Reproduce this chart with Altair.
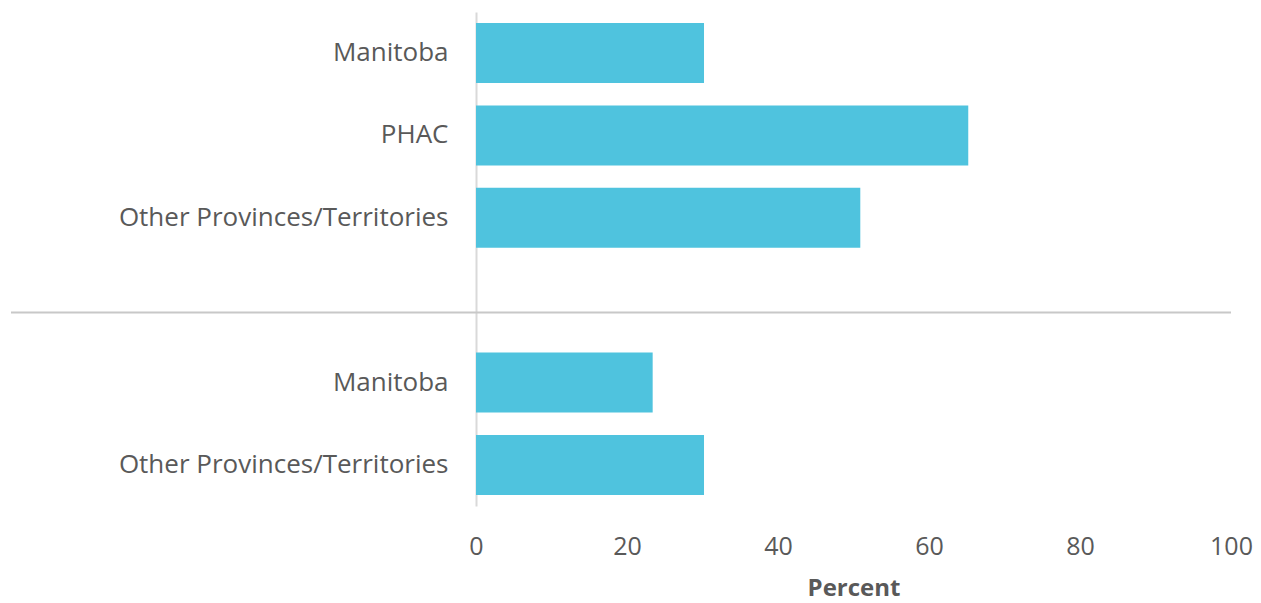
import altair as alt
import pandas as pd

ids = ["g1_mb", "g1_phac", "g1_opt", "gap", "g2_mb", "g2_opt"]
labels = ["Manitoba", "PHAC", "Other Provinces/Territories", "", "Manitoba", "Other Provinces/Territories"]
values = [30.2, 65.2, 50.9, None, 23.4, 30.2]
x_ticks = [0, 20, 40, 60, 80, 100]

df = pd.DataFrame({"id": ids, "label": labels, "value": values})
bars_df = df.dropna()

label_map = "{" + ",".join(f"'{i}':'{l}'" for i, l in zip(ids, labels)) + "}"

FONT = "Open Sans"
TXT = "#595959"

y_scale = alt.Scale(domain=ids, paddingInner=0.271, paddingOuter=0.134)

bars = alt.Chart(bars_df).mark_bar(color="#4FC3DE").encode(
    x=alt.X("value:Q", scale=alt.Scale(domain=[0, 100], nice=False),
            axis=alt.Axis(values=x_ticks, title="Percent", grid=False, domain=False,
                          ticks=False, labelFlush=False, labelPadding=28,
                          labelFont=FONT, labelFontSize=25, labelColor=TXT,
                          titleFont=FONT, titleFontSize=24, titleFontWeight="bold",
                          titleColor=TXT, titlePadding=17)),
    y=alt.Y("id:N", scale=y_scale, sort=ids,
            axis=alt.Axis(title=None, ticks=False, labelPadding=28, labelLimit=460,
                          labelExpr=f"{label_map}[datum.value]",
                          labelFont=FONT, labelFontSize=26, labelColor=TXT,
                          domainColor="#D9D9D9", domainWidth=2)),
)

sep = alt.Chart(pd.DataFrame({"id": ["gap"]})).mark_rule(color="#C8C8C8", strokeWidth=2).encode(
    y=alt.Y("id:N", scale=y_scale, sort=ids, bandPosition=0.705),
    x=alt.value(-465),
    x2=alt.value(755),
)

chart = alt.layer(bars, sep).properties(
    width=755, height=494,
    autosize=alt.AutoSizeParams(type="none"),
    padding={"left": 468, "top": 4, "right": 22, "bottom": 97},
).configure_view(stroke=None)

chart.save("out.html", embed_options={"renderer": "svg", "actions": False})
